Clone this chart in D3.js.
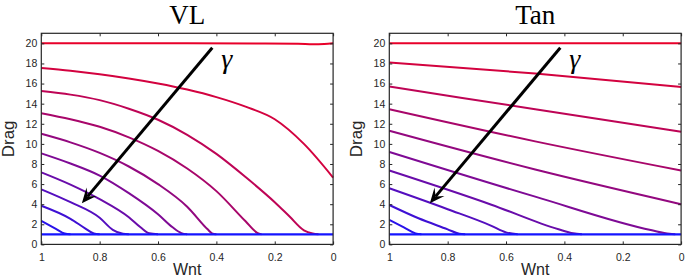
<!DOCTYPE html>
<html>
<head>
<meta charset="utf-8">
<script src="https://cdn.jsdelivr.net/npm/d3@7"></script>
<style>
  body { margin: 0; background: #fff; }
  svg { display: block; }
  .tick text { font-family: "Liberation Sans", Arial, sans-serif; font-size: 10.5px; fill: #262626; }
</style>
</head>
<body>
<div id="chart"></div>
<script>
const width = 685;
const height = 279;

const wntTicks = [1, 0.8, 0.6, 0.4, 0.2, 0];
const dragTicks = [0, 2, 4, 6, 8, 10, 12, 14, 16, 18, 20];
const panelTitles = ["VL", "Tan"];

// each curve: [Wnt, Drag] points, top (red) to bottom (blue)
const vlCurves = [
  [[1, 20], [0.5, 20], [0.12, 19.97], [0.07, 19.9], [0.03, 19.93], [0, 20]],
  [[1, 17.55], [0.9, 17.27], [0.8, 16.92], [0.7, 16.5], [0.6, 16.0], [0.5, 15.4], [0.4, 14.65], [0.3, 13.7], [0.2, 12.45], [0.1, 10.0], [0, 6.65]],
  [[1, 15.25], [0.9, 14.9], [0.8, 14.35], [0.7, 13.5], [0.6, 12.4], [0.5, 10.9], [0.4, 9.0], [0.3, 6.7], [0.2, 4.2], [0.15, 2.8], [0.1, 1.4], [0.07, 1.08], [0.05, 1]],
  [[1, 13.05], [0.9, 12.45], [0.8, 11.7], [0.7, 10.65], [0.6, 9.3], [0.5, 7.55], [0.4, 5.3], [0.3, 2.3], [0.26, 1.15], [0.245, 1]],
  [[1, 11.0], [0.9, 10.15], [0.8, 9.1], [0.7, 7.75], [0.6, 6.0], [0.5, 3.75], [0.43, 1.5], [0.415, 1.1], [0.4, 1]],
  [[1, 9.06], [0.9, 8.05], [0.8, 6.85], [0.7, 5.1], [0.6, 3.0], [0.55, 1.7], [0.52, 1.12], [0.5, 1]],
  [[1, 7.17], [0.9, 5.95], [0.8, 4.5], [0.7, 2.7], [0.66, 1.7], [0.63, 1.1], [0.6, 1]],
  [[1, 5.48], [0.9, 4.2], [0.8, 2.65], [0.755, 1.45], [0.72, 1.05], [0.7, 1]],
  [[1, 3.85], [0.9, 2.55], [0.85, 1.6], [0.82, 1.08], [0.8, 1]],
  [[1, 2.33], [0.95, 1.55], [0.92, 1.08], [0.9, 1]],
  [[1, 1], [0, 1]]
];

const tanCurves = [
  [[1, 20], [0, 20]],
  [[1, 18.1], [0.5, 17.0], [0, 15.65]],
  [[1, 15.7], [0.5, 13.45], [0, 11.2]],
  [[1, 13.45], [0.5, 10.25], [0, 7.35]],
  [[1, 11.3], [0.5, 7.45], [0, 4.0]],
  [[1, 9.2], [0.5, 4.75], [0.1, 1.4], [0.04, 1.05], [0.02, 1]],
  [[1, 7.35], [0.65, 3.95], [0.42, 1.5], [0.37, 1.1], [0.34, 1]],
  [[1, 5.58], [0.8, 3.5], [0.65, 1.85], [0.6, 1.2], [0.56, 1]],
  [[1, 3.92], [0.9, 2.6], [0.8, 1.5], [0.76, 1.05], [0.74, 1]],
  [[1, 2.43], [0.95, 1.7], [0.91, 1.1], [0.89, 1]],
  [[1, 1], [0, 1]]
];

const arrowFrom = [0.414, 19.57];
const arrowTo = [0.861, 4.09];

const panelLeft = [41.3, 389.3];
const panelWidth = 291.8;
const plotTop = 33.3;
const plotBottom = 244.4;

const svg = d3.select("#chart").append("svg")
    .attr("width", width)
    .attr("height", height);

const y = d3.scaleLinear().domain([0, 21]).range([plotBottom, plotTop]);
const colour = d3.scaleLinear().domain([0, 10]).range(["#e8002a", "#1414ff"]).interpolate(d3.interpolateRgb);

function drawPanel(index, curves) {
    const x0 = panelLeft[index];
    const x = d3.scaleLinear().domain([1, 0]).range([x0, x0 + panelWidth]);
    const g = svg.append("g");

    // curves
    const line = d3.line()
        .x(d => x(d[0]))
        .y(d => y(d[1]))
        .curve(d3.curveMonotoneX);

    g.append("g").selectAll("path")
        .data(curves)
        .enter()
        .append("path")
        .attr("d", line)
        .attr("fill", "none")
        .attr("stroke", (d, i) => colour(i))
        .attr("stroke-width", (d, i) => i === curves.length - 1 ? 2.4 : 2)
        .attr("stroke-linejoin", "round");

    // axes with inward ticks
    g.append("g")
        .attr("transform", "translate(0," + plotBottom + ")")
        .call(d3.axisBottom(x).tickValues(wntTicks).tickFormat(d => String(d))
            .tickSizeInner(-3).tickSizeOuter(0).tickPadding(9))
        .call(a => a.select(".domain").remove())
        .call(a => a.selectAll("line").attr("stroke", "#262626"));
    g.append("g")
        .attr("transform", "translate(0," + plotTop + ")")
        .call(d3.axisTop(x).tickValues(wntTicks).tickFormat("").tickSizeInner(-3).tickSizeOuter(0))
        .call(a => a.select(".domain").remove())
        .call(a => a.selectAll("line").attr("stroke", "#262626"));
    g.append("g")
        .attr("transform", "translate(" + x0 + ",0)")
        .call(d3.axisLeft(y).tickValues(dragTicks).tickFormat(d => String(d))
            .tickSizeInner(-3).tickSizeOuter(0).tickPadding(4))
        .call(a => a.select(".domain").remove())
        .call(a => a.selectAll("line").attr("stroke", "#262626"));
    g.append("g")
        .attr("transform", "translate(" + (x0 + panelWidth) + ",0)")
        .call(d3.axisRight(y).tickValues(dragTicks).tickFormat("").tickSizeInner(-3).tickSizeOuter(0))
        .call(a => a.select(".domain").remove())
        .call(a => a.selectAll("line").attr("stroke", "#262626"));

    g.append("rect")
        .attr("x", x0)
        .attr("y", plotTop)
        .attr("width", panelWidth)
        .attr("height", plotBottom - plotTop)
        .attr("fill", "none")
        .attr("stroke", "#262626")
        .attr("stroke-width", 1.2);

    // title and labels
    g.append("text")
        .attr("x", x0 + panelWidth / 2)
        .attr("y", 24.2)
        .attr("text-anchor", "middle")
        .attr("font-family", "Liberation Serif, Times New Roman, serif")
        .attr("font-size", 27)
        .text(panelTitles[index]);

    g.append("text")
        .attr("x", x0 + panelWidth / 2)
        .attr("y", 275)
        .attr("text-anchor", "middle")
        .attr("font-family", "Liberation Sans, Arial, sans-serif")
        .attr("font-size", 16)
        .attr("fill", "#262626")
        .text("Wnt");

    g.append("text")
        .attr("transform", "translate(" + (x0 - 27) + "," + ((plotTop + plotBottom) / 2) + ") rotate(-90)")
        .attr("text-anchor", "middle")
        .attr("font-family", "Liberation Sans, Arial, sans-serif")
        .attr("font-size", 17)
        .attr("fill", "#262626")
        .text("Drag");

    // gamma arrow
    const p0 = [x(arrowFrom[0]), y(arrowFrom[1])];
    const p1 = [x(arrowTo[0]), y(arrowTo[1])];
    const dx = p1[0] - p0[0], dy = p1[1] - p0[1];
    const len = Math.sqrt(dx * dx + dy * dy);
    const u = [dx / len, dy / len];
    const n = [-u[1], u[0]];
    const headLen = 15, headHalf = 6.5, notch = 9;
    const back = [p1[0] - u[0] * headLen, p1[1] - u[1] * headLen];
    const mid = [p1[0] - u[0] * notch, p1[1] - u[1] * notch];

    g.append("line")
        .attr("x1", p0[0]).attr("y1", p0[1])
        .attr("x2", mid[0]).attr("y2", mid[1])
        .attr("stroke", "#000")
        .attr("stroke-width", 3);

    g.append("path")
        .attr("d", "M" + p1[0] + "," + p1[1] +
            "L" + (back[0] + n[0] * headHalf) + "," + (back[1] + n[1] * headHalf) +
            "L" + mid[0] + "," + mid[1] +
            "L" + (back[0] - n[0] * headHalf) + "," + (back[1] - n[1] * headHalf) + "Z")
        .attr("fill", "#000");

    g.append("text")
        .attr("x", p0[0] + 9)
        .attr("y", 67.5)
        .attr("font-family", "Liberation Serif, Times New Roman, serif")
        .attr("font-style", "italic")
        .attr("font-size", 28)
        .text("γ");
}

drawPanel(0, vlCurves);
drawPanel(1, tanCurves);
</script>
</body>
</html>
